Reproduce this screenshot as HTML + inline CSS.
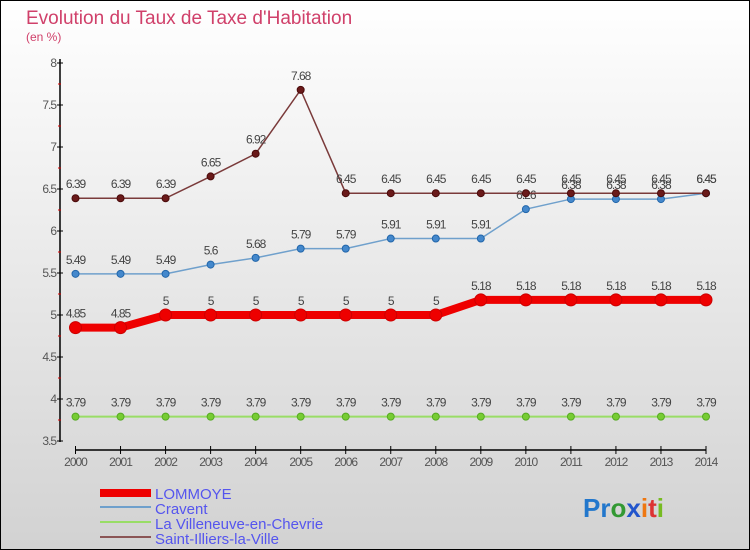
<!DOCTYPE html>
<html><head><meta charset="utf-8"><style>
body{margin:0;}
#c{width:750px;height:550px;position:relative;overflow:hidden;}
svg text{font-family:"Liberation Sans",sans-serif;}
</style></head><body>
<div id="c">
<svg id="s" width="750" height="550" xmlns="http://www.w3.org/2000/svg">
<defs><linearGradient id="bg" x1="0" y1="0" x2="0" y2="1"><stop offset="0" stop-color="#ffffff"/><stop offset="1" stop-color="#d2d2d2"/></linearGradient></defs>
<rect x="0.5" y="0.5" width="749" height="549" fill="url(#bg)" stroke="#000"/>
<text x="26" y="24" font-size="19" fill="#d0406a">Evolution du Taux de Taxe d'Habitation</text>
<text x="26" y="41" font-size="12" fill="#d0406a">(en %)</text>
<g id="axes"></g><g id="series"></g>
<g>
<rect x="100" y="489" width="51" height="8" fill="#ee0000"/>
<text x="155" y="499" font-size="15" fill="#5555ee">LOMMOYE</text>
<line x1="100" y1="507" x2="151" y2="507" stroke="#6fa0cc" stroke-width="2"/>
<text x="155" y="514" font-size="15" fill="#5555ee">Cravent</text>
<line x1="100" y1="522" x2="151" y2="522" stroke="#99dd66" stroke-width="2"/>
<text x="155" y="529" font-size="15" fill="#5555ee">La Villeneuve-en-Chevrie</text>
<line x1="100" y1="537" x2="151" y2="537" stroke="#8b5555" stroke-width="2"/>
<text x="155" y="544" font-size="15" fill="#5555ee">Saint-Illiers-la-Ville</text>
</g>
<text x="583" y="517" font-size="26" font-weight="bold"><tspan fill="#2277cc">Pr</tspan><tspan fill="#339933">o</tspan><tspan fill="#2255cc">x</tspan><tspan fill="#ee7711">i</tspan><tspan fill="#dd3333">t</tspan><tspan fill="#77bb22">i</tspan></text>
</svg></div>
<script>
const years=[2000,2001,2002,2003,2004,2005,2006,2007,2008,2009,2010,2011,2012,2013,2014];
const lommoye=[4.85,4.85,5,5,5,5,5,5,5,5.18,5.18,5.18,5.18,5.18,5.18];
const cravent=[5.49,5.49,5.49,5.6,5.68,5.79,5.79,5.91,5.91,5.91,6.26,6.38,6.38,6.38,6.45];
const villeneuve=[3.79,3.79,3.79,3.79,3.79,3.79,3.79,3.79,3.79,3.79,3.79,3.79,3.79,3.79,3.79];
const saintIlliers=[6.39,6.39,6.39,6.65,6.92,7.68,6.45,6.45,6.45,6.45,6.45,6.45,6.45,6.45,6.45];
const yTicks=[3.5,4,4.5,5,5.5,6,6.5,7,7.5,8];
const NS="http://www.w3.org/2000/svg";
function xs(i){return 75.5+i*(706-75.5)/14;}
function ys(v){return 441-(v-3.5)*84;}
function mk(tag,attrs,parent){const e=document.createElementNS(NS,tag);for(const k in attrs)e.setAttribute(k,attrs[k]);parent.appendChild(e);return e;}
const ax=document.getElementById('axes');
let e=mk('line',{x1:60,y1:59,x2:60,y2:442,stroke:'#000','stroke-width':1.5},ax);


e=mk('line',{x1:75,y1:450,x2:706,y2:450,stroke:'#000','stroke-width':1.5},ax);


yTicks.forEach((t,i)=>{
 mk('line',{x1:57,y1:ys(t),x2:63,y2:ys(t),stroke:'#000'},ax);
 if(i<yTicks.length-1) mk('line',{x1:58,y1:ys(t+0.25),x2:61,y2:ys(t+0.25),stroke:'#d00'},ax);
 const tx=mk('text',{x:56,y:ys(t)+4,'font-size':12,fill:'#555','text-anchor':'end','letter-spacing':'-1'},ax);
 tx.textContent=String(t);
 
 
});
years.forEach((y,i)=>{
 mk('line',{x1:xs(i),y1:446,x2:xs(i),y2:454,stroke:'#000'},ax);
 const tx=mk('text',{x:xs(i),y:466,'font-size':12,fill:'#555','text-anchor':'middle','letter-spacing':'-1'},ax);
 tx.textContent=String(y);
 
 
});
const sg=document.getElementById('series');
function draw(data,name,color,w,r,dot,stroke){
 const g=mk('g',{},sg);
 
 
 const p=mk('polyline',{points:data.map((v,i)=>xs(i)+','+ys(v)).join(' '),fill:'none',stroke:color,'stroke-width':w},g);
 
 
 data.forEach((v,i)=>{
  const c=mk('circle',{cx:xs(i),cy:ys(v),r:r,fill:dot,stroke:stroke,'stroke-width':1},g);
  
  
  const t=mk('text',{x:xs(i),y:ys(v)-10,'font-size':12,fill:'#444','text-anchor':'middle','letter-spacing':'-1'},g);
  t.textContent=String(v);
  
  
 });
}
draw(villeneuve,'villeneuve','#99dd66',2,3.5,'#77cc33','#55aa22');
draw(cravent,'cravent','#6fa0cc',1.5,3.5,'#4488cc','#2266aa');
draw(saintIlliers,'saint-illiers','#7a3a3a',1.5,3.5,'#6a1a1a','#4a0a0a');
draw(lommoye,'lommoye','#ee0000',8,6,'#ee0000','#cc0000');
</script>
</body></html>
